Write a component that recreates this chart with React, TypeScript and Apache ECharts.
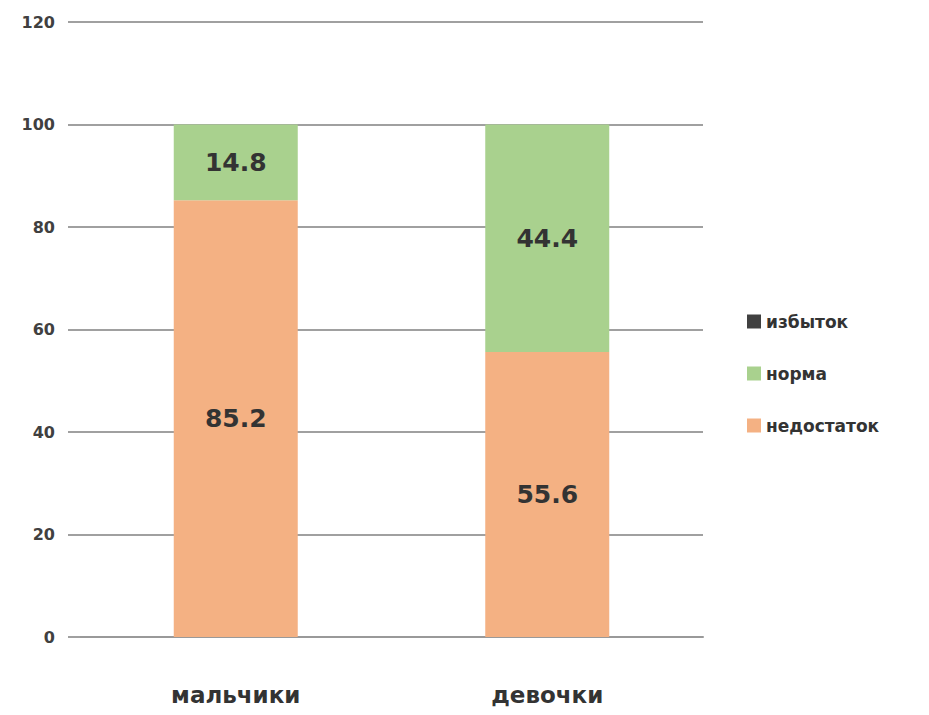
import React, { useEffect, useRef } from "react";
import * as echarts from "echarts";

const categories = ["мальчики", "девочки"];
const seriesNames = ["недостаток", "норма", "избыток"];
const deficitValues = [85.2, 55.6];
const normValues = [14.8, 44.4];
const excessValues = [0, 0];
const yTicks = { min: 0, max: 120, interval: 20 };

const colors = ["#F4B183", "#A9D18E", "#404040"];

export default function App() {
  const ref = useRef<HTMLDivElement>(null);
  useEffect(() => {
    if (!ref.current) return;
    const chart = echarts.init(ref.current, undefined, { renderer: "svg" });
    const font = "'DejaVu Sans', Arial, sans-serif";
    const values = [deficitValues, normValues, excessValues];
    chart.setOption({
      animation: false,
      textStyle: { fontFamily: font },
      grid: { left: 72, right: 218, top: 14, bottom: 70 },
      legend: {
        orient: "vertical",
        left: 734,
        top: 300,
        itemGap: 35,
        itemWidth: 14,
        itemHeight: 14,
        icon: "rect",
        data: ["избыток", "норма", "недостаток"],
        textStyle: { fontSize: 17, fontWeight: "bold", color: "#333", fontFamily: font },
      },
      xAxis: {
        type: "category",
        data: categories,
        axisLine: { lineStyle: { color: "#999", width: 2 } },
        axisTick: { show: false },
        axisLabel: { fontSize: 23, fontWeight: "bold", color: "#333", margin: 46, fontFamily: font },
      },
      yAxis: {
        type: "value",
        min: yTicks.min,
        max: yTicks.max,
        interval: yTicks.interval,
        axisLine: { show: false },
        axisTick: { show: true, length: 12, lineStyle: { color: "#a0a0a0", width: 2 } },
        splitLine: { lineStyle: { color: "#a0a0a0", width: 2 } },
        axisLabel: { fontSize: 16, fontWeight: "bold", color: "#404040", margin: 25, fontFamily: font },
      },
      series: seriesNames.map((name, i) => ({
        name,
        type: "bar",
        stack: "total",
        barWidth: 124,
        data: values[i],
        itemStyle: { color: colors[i] },
        label: {
          show: i < 2,
          position: "inside",
          fontSize: 25,
          fontWeight: "bold",
          color: "#333",
          fontFamily: font,
          formatter: (p: any) => (p.value ? String(p.value) : ""),
        },
      })),
    });
    return () => chart.dispose();
  }, []);
  return <div ref={ref} style={{ width: 913, height: 699 }} />;
}
